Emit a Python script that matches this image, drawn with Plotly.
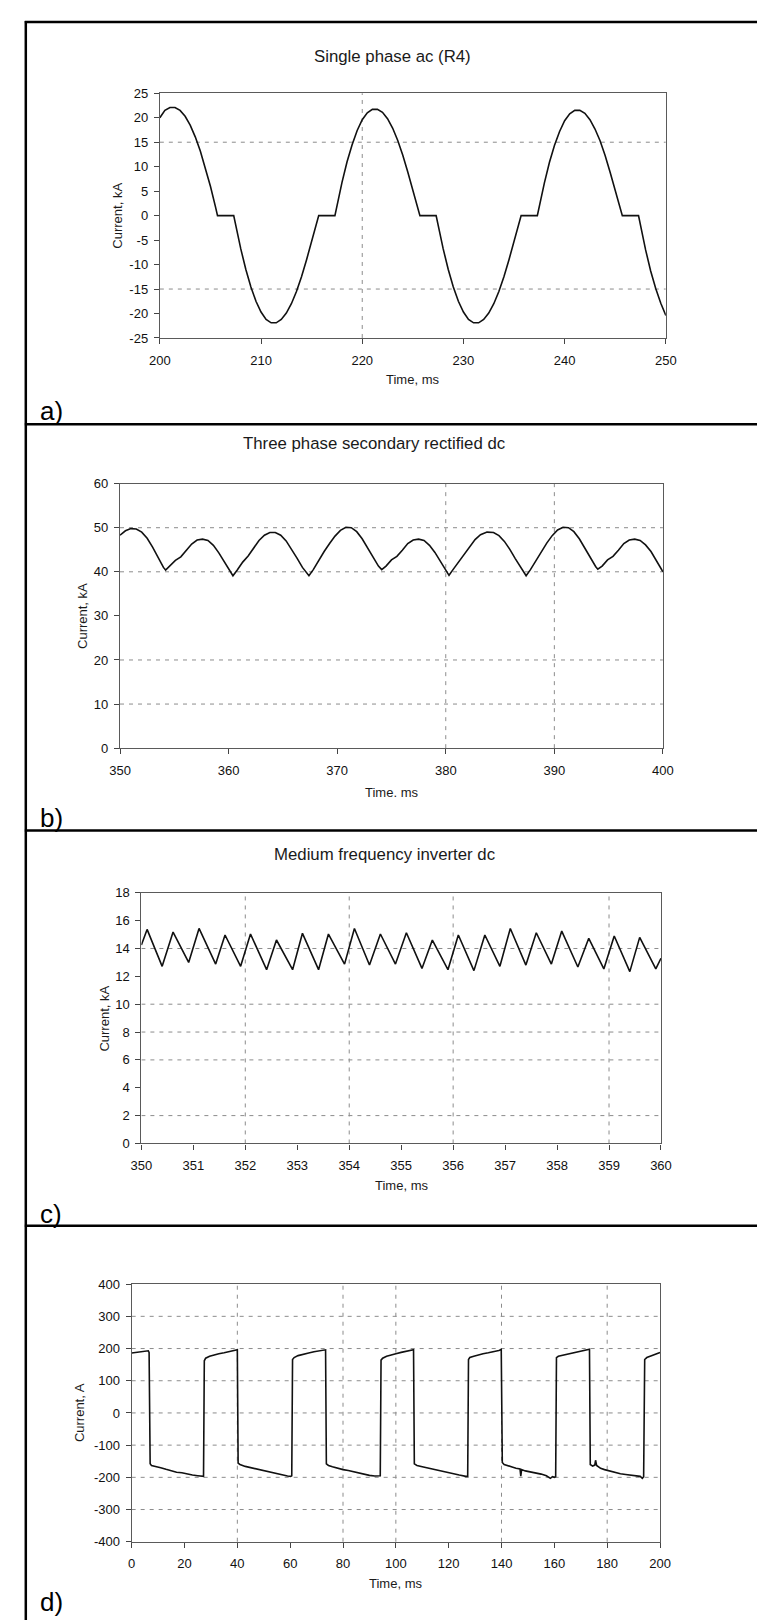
import plotly.graph_objects as go

# ---------------- data ----------------
# a) Single phase ac (R4)
t_a = [200.0, 200.5, 201.0, 201.5, 202.0, 202.5, 203.0, 203.5, 204.0, 204.5, 205.0, 205.5, 205.7,
       207.3, 207.5, 208.0, 208.5, 209.0, 209.5, 210.0, 210.5, 211.0, 211.5, 212.0, 212.5, 213.0,
       213.5, 214.0, 214.5, 215.0, 215.5, 215.7,
       217.3, 217.5, 218.0, 218.5, 219.0, 219.5, 220.0, 220.5, 221.0, 221.5, 222.0, 222.5, 223.0,
       223.5, 224.0, 224.5, 225.0, 225.5, 225.7,
       227.3, 227.5, 228.0, 228.5, 229.0, 229.5, 230.0, 230.5, 231.0, 231.5, 232.0, 232.5, 233.0,
       233.5, 234.0, 234.5, 235.0, 235.5, 235.7,
       237.3, 237.5, 238.0, 238.5, 239.0, 239.5, 240.0, 240.5, 241.0, 241.5, 242.0, 242.5, 243.0,
       243.5, 244.0, 244.5, 245.0, 245.5, 245.7,
       247.3, 247.5, 248.0, 248.5, 249.0, 249.5, 250.0]
i_a = [20.0, 21.5, 22.1, 22.1, 21.5, 20.3, 18.5, 16.1, 13.2, 9.8, 6.0, 1.8, 0.0,
       0.0, -2.0, -6.8, -11.0, -14.6, -17.5, -19.7, -21.2, -21.9, -21.9, -21.2, -19.9, -18.0,
       -15.5, -12.5, -9.0, -5.2, -1.4, 0.0,
       0.0, 2.0, 6.8, 11.0, 14.5, 17.4, 19.6, 21.0, 21.7, 21.7, 21.1, 19.8, 17.9,
       15.4, 12.4, 8.9, 5.1, 1.4, 0.0,
       0.0, -2.0, -6.8, -11.0, -14.6, -17.5, -19.7, -21.2, -21.9, -21.9, -21.2, -19.9, -18.0,
       -15.5, -12.5, -9.0, -5.2, -1.4, 0.0,
       0.0, 2.0, 6.7, 10.9, 14.4, 17.2, 19.4, 20.8, 21.5, 21.5, 20.9, 19.6, 17.7,
       15.3, 12.3, 8.8, 5.0, 1.4, 0.0,
       0.0, -2.2, -7.0, -11.3, -14.9, -17.9, -20.4]

# b) Three phase secondary rectified dc
t_b = [350.0, 350.5, 351.0, 351.5, 352.0, 352.5, 353.0, 353.5, 354.0, 354.2,
       354.6, 355.1, 355.6, 356.1, 356.6, 357.1, 357.6, 358.1, 358.6, 359.1, 359.6, 360.1, 360.4,
       360.8, 361.3, 361.8, 362.3, 362.8, 363.3, 363.8, 364.3, 364.8, 365.3, 365.8, 366.3, 366.8, 367.4,
       367.8, 368.3, 368.8, 369.3, 369.8, 370.3, 370.8, 371.3, 371.8, 372.3, 372.8, 373.3, 373.8, 374.1,
       374.5, 375.0, 375.5, 376.0, 376.5, 377.0, 377.5, 378.0, 378.5, 379.0, 379.5, 380.0, 380.3,
       380.7, 381.2, 381.7, 382.2, 382.7, 383.2, 383.8, 384.4, 384.9, 385.4, 385.9, 386.4, 386.9, 387.4,
       387.8, 388.3, 388.8, 389.3, 389.8, 390.3, 390.8, 391.3, 391.8, 392.3, 392.8, 393.3, 393.8, 394.0,
       394.4, 394.9, 395.4, 395.9, 396.4, 396.9, 397.4, 397.9, 398.4, 398.9, 399.4, 400.0]
i_b = [48.3, 49.3, 49.8, 49.7, 49.0, 47.6, 45.6, 43.2, 41.0, 40.4,
       41.3, 42.6, 43.4, 44.8, 46.3, 47.2, 47.4, 47.1, 46.0, 44.3, 42.2, 40.1, 39.1,
       40.4, 42.2, 43.6, 45.4, 47.1, 48.3, 48.9, 48.9, 48.3, 47.0, 45.2, 43.1, 41.0, 39.1,
       40.5, 42.6, 44.6, 46.4, 48.1, 49.4, 50.1, 50.0, 49.1, 47.5, 45.4, 43.2, 41.3, 40.5,
       41.3, 42.7, 43.5, 44.9, 46.4, 47.2, 47.4, 47.1, 46.0, 44.4, 42.4, 40.4, 39.2,
       40.6, 42.3, 43.8, 45.6, 47.3, 48.4, 49.0, 48.9, 48.2, 46.9, 45.1, 43.0, 40.9, 39.1,
       40.5, 42.6, 44.6, 46.5, 48.2, 49.5, 50.1, 50.0, 49.1, 47.5, 45.4, 43.2, 41.2, 40.6,
       41.3, 42.7, 43.5, 44.9, 46.4, 47.2, 47.4, 47.1, 46.1, 44.6, 42.6, 40.0]

# c) Medium frequency inverter dc
t_c = [350.0, 350.11, 350.40, 350.61, 350.91, 351.11, 351.43, 351.61, 351.91, 352.10, 352.41,
       352.60, 352.91, 353.10, 353.41, 353.60, 353.91, 354.10, 354.39, 354.60, 354.89, 355.10,
       355.40, 355.60, 355.90, 356.10, 356.40, 356.61, 356.90, 357.10, 357.40, 357.60, 357.89,
       358.09, 358.40, 358.61, 358.90, 359.10, 359.40, 359.59, 359.90, 360.0]
i_c = [14.25, 15.37, 12.72, 15.18, 13.0, 15.44, 12.88, 14.97, 12.72, 15.04, 12.48,
       14.61, 12.48, 15.09, 12.48, 15.04, 12.88, 15.44, 12.81, 15.04, 12.88, 15.13,
       12.57, 14.61, 12.48, 14.97, 12.41, 14.97, 12.72, 15.44, 12.81, 15.13, 12.88,
       15.25, 12.67, 14.73, 12.53, 14.90, 12.34, 14.80, 12.53, 13.3]

# d) square-wave current
t_d = [0.0, 2.0, 4.0, 5.5, 6.3, 6.6, 7.0, 7.5, 9.0, 11.0, 13.0, 15.0, 17.0, 19.0, 21.0, 23.0, 25.0,
       26.5, 27.2, 27.5, 28.0, 29.5, 31.0, 33.0, 35.0, 37.0, 38.5, 39.6, 40.0,
       40.3, 41.0, 43.0, 45.0, 47.0, 49.0, 51.0, 53.0, 55.0, 57.0, 59.0, 60.2, 60.6,
       60.9, 61.5, 63.0, 65.0, 67.0, 69.0, 71.0, 72.8, 73.4,
       73.7, 74.5, 76.0, 78.0, 80.0, 82.0, 84.0, 86.0, 88.0, 90.0, 92.0, 93.8, 94.1,
       94.4, 95.0, 96.5, 98.0, 100.0, 102.0, 104.0, 106.0, 106.7,
       107.0, 108.0, 110.0, 112.0, 114.0, 116.0, 118.0, 120.0, 122.0, 124.0, 126.5, 127.2,
       127.5, 128.0, 129.5, 131.0, 133.0, 135.0, 137.0, 139.0, 139.9,
       140.3, 141.0, 142.5, 144.0, 145.5, 147.0, 147.3, 147.6, 149.0, 151.0, 153.0, 155.0, 157.0,
       158.5, 159.3, 160.0, 160.5,
       160.8, 161.5, 163.0, 165.0, 167.0, 169.0, 171.0, 172.8, 173.3,
       173.6, 174.5, 175.3, 175.6, 176.0, 177.5, 179.0, 181.0, 183.0, 185.0, 187.0, 189.0, 191.0,
       192.5, 193.3, 193.8,
       194.2, 195.0, 196.5, 198.0, 199.0, 200.0]
i_d = [186, 188, 189, 190, 193, 188, -158, -163, -167, -170, -175, -180, -184, -186, -190, -193, -195,
       -197, -197, 162, 170, 176, 180, 184, 187, 190, 192, 195, 196,
       -156, -160, -166, -170, -173, -178, -182, -186, -189, -193, -196, -197, -195,
       166, 172, 178, 183, 186, 190, 193, 196, 196,
       -158, -163, -167, -172, -176, -179, -183, -186, -190, -194, -196, -197, -195,
       164, 170, 176, 180, 184, 188, 191, 195, 196,
       -158, -163, -167, -171, -175, -179, -183, -187, -190, -193, -197, -197,
       166, 172, 176, 180, 184, 187, 190, 194, 197,
       -154, -160, -165, -168, -172, -174, -196, -176, -180, -183, -187, -190, -195,
       -203, -198, -200, -198,
       172, 176, 179, 183, 187, 190, 194, 198, 198,
       -160, -165, -162, -147, -163, -172, -176, -181, -186, -189, -191, -193, -195,
       -197, -203, -198,
       166, 172, 177, 181, 184, 188]

titles = ["Single phase ac (R4)", "Three phase secondary rectified dc", "Medium frequency inverter dc", ""]
x_titles = ["Time, ms", "Time. ms", "Time, ms", "Time, ms"]
y_titles = ["Current, kA", "Current, kA", "Current, kA", "Current, A"]
panel_labels = ["a)", "b)", "c)", "d)"]

x_ranges = [[200, 250], [350, 400], [350, 360], [0, 200]]
y_ranges = [[-25, 25], [0, 60], [0, 18], [-400, 400]]

# tick values and their labels (hyphen-minus as in the reference)
x_tickvals = [[200, 210, 220, 230, 240, 250],
              [350, 360, 370, 380, 390, 400],
              [350, 351, 352, 353, 354, 355, 356, 357, 358, 359, 360],
              [0, 20, 40, 60, 80, 100, 120, 140, 160, 180, 200]]
x_ticktext = [["200", "210", "220", "230", "240", "250"],
              ["350", "360", "370", "380", "390", "400"],
              ["350", "351", "352", "353", "354", "355", "356", "357", "358", "359", "360"],
              ["0", "20", "40", "60", "80", "100", "120", "140", "160", "180", "200"]]
y_tickvals = [[25, 20, 15, 10, 5, 0, -5, -10, -15, -20, -25],
              [60, 50, 40, 30, 20, 10, 0],
              [18, 16, 14, 12, 10, 8, 6, 4, 2, 0],
              [400, 300, 200, 100, 0, -100, -200, -300, -400]]
y_ticktext = [["25", "20", "15", "10", "5", "0", "-5", "-10", "-15", "-20", "-25"],
              ["60", "50", "40", "30", "20", "10", "0"],
              ["18", "16", "14", "12", "10", "8", "6", "4", "2", "0"],
              ["400", "300", "200", "100", "0", "-100", "-200", "-300", "-400"]]

# grid lines that appear in each panel
h_grid = [[15, -15], [50, 40, 20, 10], [14, 10, 8, 6, 2], [300, 200, 100, 0, -100, -200, -300]]
v_grid = [[220], [380, 390], [352, 354, 356, 359], [40, 80, 100, 140, 180]]

series = [(t_a, i_a), (t_b, i_b), (t_c, i_c), (t_d, i_d)]

# ---------------- layout geometry (pixels) ----------------
W, H = 765, 1620
FONT = "Liberation Sans, Arial, sans-serif"

def px(x):
    return x / W

def py(y):
    return 1 - y / H

# plot boxes: left, right, top, bottom
boxes = [(145, 666, 79, 326), (104, 663, 473, 740), (126, 661, 886, 1139), (116, 660, 1281, 1541)]
title_pos = [(385, 42), (366, 433), (376, 847), None]
xtitle_y = [368, 785, 1181, 1583]
ytitle_x = [102, 66, 88, 63]
label_y = [400, 810, 1210, 1602]
separators = [413, 823, 1222]

fig = go.Figure()
shapes = []
annotations = []

for k in range(4):
    sfx = "" if k == 0 else str(k + 1)
    xa, ya = "x" + sfx, "y" + sfx
    t, v = series[k]
    fig.add_trace(go.Scatter(x=t, y=v, mode="lines", xaxis=xa, yaxis=ya,
                             line=dict(color="#111111", width=1.6),
                             showlegend=False, hoverinfo="skip"))
    l, r, tp, b = boxes[k]
    common = dict(showgrid=False, zeroline=False, showline=True, linecolor="#5a5a5a",
                  linewidth=1.2, mirror=True, ticks="outside", ticklen=5, tickwidth=1,
                  tickcolor="#444444", tickmode="array",
                  tickfont=dict(family=FONT, size=13, color="#111111"), fixedrange=True)
    fig.update_layout(**{
        ("xaxis" + sfx): dict(common, domain=[px(l), px(r)], range=x_ranges[k],
                              tickvals=x_tickvals[k], ticktext=x_ticktext[k], anchor=ya,
                              ticklabelstandoff=5),
        ("yaxis" + sfx): dict(common, domain=[py(b), py(tp)], range=y_ranges[k],
                              tickvals=y_tickvals[k], ticktext=y_ticktext[k], anchor=xa,
                              ticklabelstandoff=3),
    })
    for g in h_grid[k]:
        shapes.append(dict(type="line", xref=xa, yref=ya, x0=x_ranges[k][0], x1=x_ranges[k][1],
                           y0=g, y1=g, layer="below",
                           line=dict(color="#8c8c8c", width=1, dash="4px,5px")))
    for g in v_grid[k]:
        shapes.append(dict(type="line", xref=xa, yref=ya + " domain", x0=g, x1=g, y0=0, y1=1,
                           layer="below",
                           line=dict(color="#8c8c8c", width=1, dash="4px,5px")))
    if title_pos[k] is not None:
        annotations.append(dict(text=titles[k], x=px(title_pos[k][0]), y=py(title_pos[k][1]),
                                xref="paper", yref="paper", xanchor="center", yanchor="middle",
                                showarrow=False, font=dict(family=FONT, size=16.8, color="#1a1a1a")))
    annotations.append(dict(text=x_titles[k], x=px((l + r) / 2), y=py(xtitle_y[k]),
                            xref="paper", yref="paper", xanchor="center", yanchor="middle",
                            showarrow=False, font=dict(family=FONT, size=13, color="#1a1a1a")))
    annotations.append(dict(text=y_titles[k], x=px(ytitle_x[k]), y=py((tp + b) / 2),
                            xref="paper", yref="paper", xanchor="center", yanchor="middle",
                            textangle=-90, showarrow=False,
                            font=dict(family=FONT, size=13, color="#1a1a1a")))
    annotations.append(dict(text=panel_labels[k], x=px(20), y=py(label_y[k]),
                            xref="paper", yref="paper", xanchor="left", yanchor="middle",
                            showarrow=False, font=dict(family=FONT, size=26, color="#000000")))

# outer frame and separators
frame = dict(color="#000000", width=2.5)
shapes.append(dict(type="line", xref="paper", yref="paper", x0=px(7), x1=px(7),
                   y0=py(6), y1=py(1620), line=frame))
shapes.append(dict(type="line", xref="paper", yref="paper", x0=px(6), x1=px(765),
                   y0=py(7), y1=py(7), line=frame))
for s in separators:
    shapes.append(dict(type="line", xref="paper", yref="paper", x0=px(6), x1=px(765),
                       y0=py(s), y1=py(s), line=frame))

fig.update_layout(width=W, height=H, margin=dict(l=0, r=0, t=0, b=0),
                  paper_bgcolor="white", plot_bgcolor="white",
                  shapes=shapes, annotations=annotations, showlegend=False)

fig.write_html("out.html")
